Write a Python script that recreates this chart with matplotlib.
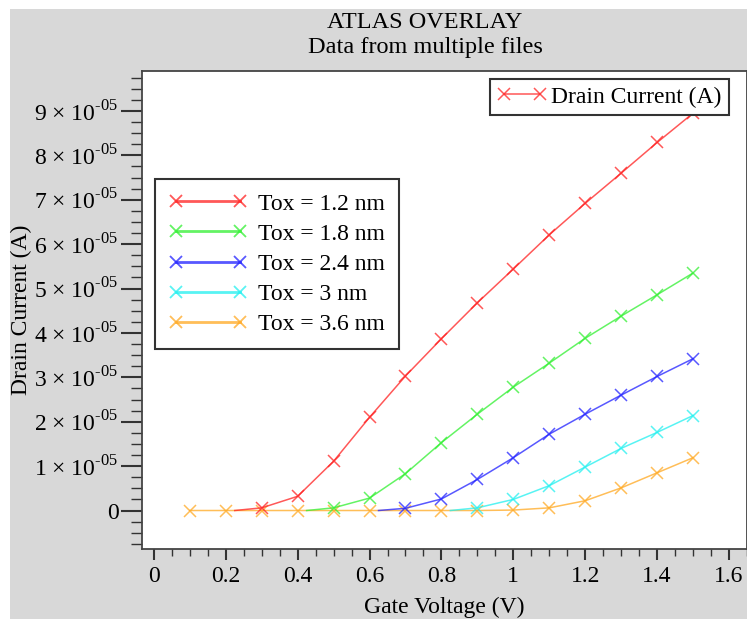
import numpy as np
import matplotlib
matplotlib.use("Agg")
import matplotlib.pyplot as plt
import matplotlib.patches as patches
from matplotlib.lines import Line2D
from matplotlib.ticker import MultipleLocator, FuncFormatter

plt.rcParams["font.family"] = ["Liberation Serif", "DejaVu Serif"]
plt.rcParams["mathtext.fontset"] = "custom"
plt.rcParams["mathtext.rm"] = "Liberation Serif"

# gate voltage sweeps (V) and drain current (A) per oxide thickness
vg_12 = [0.225, 0.3, 0.4, 0.5, 0.6, 0.7, 0.8, 0.9, 1.0, 1.1, 1.2, 1.3, 1.4, 1.5]
id_12 = [0.0, 0.06e-5, 0.32e-5, 1.11e-5, 2.10e-5, 3.03e-5, 3.87e-5, 4.68e-5,
         5.44e-5, 6.21e-5, 6.92e-5, 7.60e-5, 8.29e-5, 8.95e-5]

vg_18 = [0.425, 0.5, 0.6, 0.7, 0.8, 0.9, 1.0, 1.1, 1.2, 1.3, 1.4, 1.5]
id_18 = [0.0, 0.06e-5, 0.28e-5, 0.83e-5, 1.53e-5, 2.17e-5, 2.78e-5, 3.32e-5,
         3.88e-5, 4.38e-5, 4.86e-5, 5.35e-5]

vg_24 = [0.625, 0.7, 0.8, 0.9, 1.0, 1.1, 1.2, 1.3, 1.4, 1.5]
id_24 = [0.0, 0.05e-5, 0.26e-5, 0.70e-5, 1.19e-5, 1.72e-5, 2.17e-5, 2.60e-5,
         3.02e-5, 3.42e-5]

vg_30 = [0.825, 0.9, 1.0, 1.1, 1.2, 1.3, 1.4, 1.5]
id_30 = [0.0, 0.06e-5, 0.25e-5, 0.56e-5, 0.98e-5, 1.40e-5, 1.76e-5, 2.14e-5]

vg_36 = [0.1, 0.2, 0.3, 0.4, 0.5, 0.6, 0.7, 0.8, 0.9, 1.0, 1.1, 1.2, 1.3, 1.4, 1.5]
id_36 = [0.0, 0.0, 0.0, 0.0, 0.0, 0.0, 0.0, 0.0, 0.0, 0.01e-5, 0.06e-5,
         0.22e-5, 0.51e-5, 0.85e-5, 1.19e-5]

labels = ["Tox = 1.2 nm", "Tox = 1.8 nm", "Tox = 2.4 nm", "Tox = 3 nm", "Tox = 3.6 nm"]
colors = ["#ff2020", "#30f030", "#2020ff", "#20f0f0", "#ffa820"]

FS = 17

fig = plt.figure(figsize=(7.47, 6.19), dpi=100)
fig.patch.set_facecolor("white")
fig.add_artist(patches.Rectangle((10 / 747, 0), 1, (619 - 9) / 619,
                                 transform=fig.transFigure, facecolor="#d8d8d8",
                                 edgecolor="none", zorder=0))

ax = fig.add_axes([142 / 747, 70 / 619, 605 / 747, 478 / 619])
ax.set_facecolor("white")

series = [(vg_12, id_12), (vg_18, id_18), (vg_24, id_24), (vg_30, id_30), (vg_36, id_36)]
# orange drawn first so the other curves sit on top at the baseline
for i in [4, 0, 1, 2, 3]:
    vg, cur = series[i]
    skip = 0 if i == 4 else 1
    ax.plot(vg, cur, color=colors[i], lw=1.1, alpha=0.75, marker="x", ms=8,
            mew=1.1, markevery=slice(skip, None))

ax.set_xlim(-0.033, 1.65)
ax.set_ylim(-0.867e-5, 9.9e-5)

ax.xaxis.set_major_locator(MultipleLocator(0.2))
ax.xaxis.set_minor_locator(MultipleLocator(0.05))
ax.yaxis.set_major_locator(MultipleLocator(1e-5))
ax.yaxis.set_minor_locator(MultipleLocator(0.25e-5))


def fmt_x(v, pos):
    return "%g" % round(v, 2)


def fmt_y(v, pos):
    n = int(round(v / 1e-5))
    if n == 0:
        return "0"
    return "%d × 10$^{\\text{-05}}$" % n


ax.xaxis.set_major_formatter(FuncFormatter(fmt_x))
ax.yaxis.set_major_formatter(FuncFormatter(fmt_y))

ax.tick_params(axis="y", which="major", length=15, width=1.5, color="#333333",
               labelsize=FS, pad=2)
ax.tick_params(axis="y", which="minor", length=8, width=1.0, color="#333333")
ax.tick_params(axis="x", which="major", length=8, width=1.5, color="#333333",
               labelsize=FS, pad=4)
ax.tick_params(axis="x", which="minor", length=5, width=1.0, color="#333333")

for s in ax.spines.values():
    s.set_color("#444444")
    s.set_linewidth(1.3)

ax.set_xlabel("Gate Voltage (V)", fontsize=FS)
ax.xaxis.set_label_coords(0.5, -0.1)
ax.set_ylabel("Drain Current (A)", fontsize=FS)
ax.yaxis.set_label_coords(-0.182, 0.5)

fig.text(425 / 747, 1 - 22 / 619, "ATLAS OVERLAY", ha="center", va="center", fontsize=17.5)
fig.text(425 / 747, 1 - 47 / 619, "Data from multiple files", ha="center", va="center",
         fontsize=17.5)

# legend for the overlaid files
handles = [Line2D([0], [0], color=c, lw=2, alpha=0.75, marker="x", ms=9, mew=1.3)
           for c in colors]
leg2 = ax.legend(handles, labels, loc="upper left", bbox_to_anchor=(0.0215, 0.774),
                 borderaxespad=0, fontsize=FS, numpoints=2, handlelength=3.3,
                 handletextpad=0.45, labelspacing=0.36, borderpad=0.6,
                 fancybox=False, framealpha=1, edgecolor="#333333")
leg2.get_frame().set_linewidth(1.5)
ax.add_artist(leg2)

h1 = Line2D([0], [0], color=colors[0], lw=1.1, alpha=0.75, marker="x", ms=8, mew=1.1)
leg1 = ax.legend([h1], ["Drain Current (A)"], loc="upper right",
                 bbox_to_anchor=(0.970, 0.983), borderaxespad=0, fontsize=FS,
                 numpoints=2, handlelength=2.1, handletextpad=0.2, borderpad=0.3,
                 fancybox=False, framealpha=1, edgecolor="#333333")
leg1.get_frame().set_linewidth(1.5)

fig.savefig("out.png", dpi=100, facecolor=fig.get_facecolor())
